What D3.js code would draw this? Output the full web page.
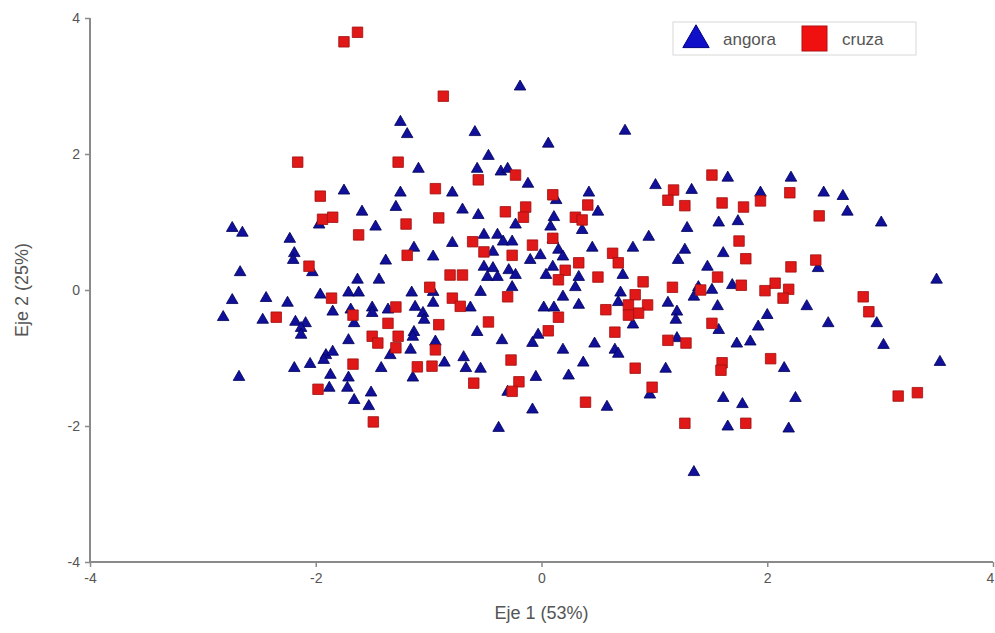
<!DOCTYPE html>
<html>
<head>
<meta charset="utf-8">
<script src="https://cdn.jsdelivr.net/npm/d3@7"></script>
<style>
  body { margin: 0; background: #fff; }
  svg { font-family: "Liberation Sans", Arial, sans-serif; }
</style>
</head>
<body>
<div id="chart"></div>
<script>
const categories = ["angora", "cruza"]
const xTicks = [-4, -2, 0, 2, 4]
const yTicks = [-4, -2, 0, 2, 4]

// angora points [eje1, eje2]
const angoraPts = [
  [-1.25, 2.47], [-1.19, 2.29], [-1.09, 1.78], [-0.19, 2.99], [-0.59, 2.32], [0.06, 2.15],
  [0.74, 2.34], [-0.47, 1.97], [-0.57, 1.78], [-0.36, 1.74], [-0.30, 1.78], [1.65, 1.65],
  [2.21, 1.65], [-1.75, 1.46], [-1.25, 1.43], [-0.79, 1.43], [-1.59, 1.15], [-1.29, 1.22],
  [-1.97, 0.96], [-1.47, 0.93], [-2.74, 0.91], [-2.65, 0.84], [-2.23, 0.75], [-0.79, 0.69],
  [-1.13, 0.62], [-0.96, 0.49], [-2.19, 0.54], [-2.20, 0.44], [-1.38, 0.43], [-2.03, 0.26],
  [-2.67, 0.26], [-1.63, 0.15], [-1.44, 0.15], [-0.96, -0.03], [-1.15, -0.04], [-1.96, -0.07],
  [-1.71, -0.04], [-1.62, -0.04], [-2.44, -0.12], [-2.74, -0.15], [-2.25, -0.19], [-0.96, -0.19],
  [-1.12, -0.25], [-1.50, -0.26], [-1.36, -0.29], [-1.69, -0.29], [-1.85, -0.32], [-1.05, -0.34],
  [-1.04, -0.44], [-2.82, -0.40], [-2.47, -0.44], [-2.18, -0.47], [-2.09, -0.49], [-2.13, -0.56],
  [-1.66, -0.49], [-1.50, -0.34], [-1.13, -0.62], [-0.12, 1.56], [1.01, 1.54], [1.33, 1.47],
  [0.42, 1.43], [0.13, 1.32], [0.50, 1.15], [-0.70, 1.18], [-0.56, 1.10], [-0.23, 0.96],
  [0.11, 1.07], [0.08, 0.93], [0.36, 0.88], [1.29, 0.91], [0.95, 0.78], [0.81, 0.62],
  [1.27, 0.59], [1.21, 0.44], [-0.51, 0.81], [-0.39, 0.81], [-0.34, 0.71], [-0.26, 0.71],
  [-0.43, 0.56], [-0.01, 0.51], [-0.10, 0.44], [0.10, 0.74], [0.15, 0.59], [0.19, 0.49],
  [0.45, 0.62], [-0.51, 0.34], [-0.43, 0.32], [-0.29, 0.29], [-0.23, 0.22], [-0.48, 0.19],
  [-0.39, 0.19], [0.04, 0.22], [0.10, 0.34], [0.33, 0.19], [0.30, 0.04], [0.72, 0.22],
  [1.39, 0.04], [1.35, -0.10], [-0.26, 0.04], [-0.54, -0.03], [-0.63, -0.26], [0.19, -0.10],
  [0.33, -0.22], [0.02, -0.26], [0.11, -0.26], [0.70, -0.04], [0.68, -0.18], [1.12, -0.19],
  [1.20, -0.32], [1.19, -0.44], [0.81, -0.51], [-0.57, -0.62], [-0.03, -0.66], [1.94, 1.43],
  [2.50, 1.43], [2.67, 1.38], [2.71, 1.15], [1.57, 0.99], [1.74, 1.01], [3.01, 0.99],
  [1.61, 0.54], [2.45, 0.32], [1.47, 0.34], [1.69, 0.07], [1.51, 0.00], [3.50, 0.15],
  [2.35, -0.24], [1.56, -0.24], [2.00, -0.37], [1.92, -0.54], [2.54, -0.49], [2.97, -0.49],
  [1.57, -0.59], [-2.68, -1.28], [-2.19, -1.15], [-2.05, -1.09], [-1.91, -0.96], [-1.85, -0.91],
  [-1.93, -1.03], [-1.71, -0.74], [-1.87, -1.25], [-1.71, -1.29], [-1.88, -1.44], [-1.72, -1.44],
  [-1.66, -1.62], [-1.51, -1.51], [-1.53, -1.71], [-1.42, -1.15], [-1.34, -0.96], [-1.14, -0.69],
  [-1.16, -0.88], [-1.14, -1.29], [-0.94, -0.76], [-0.86, -1.07], [-2.13, -0.66], [-0.35, -0.74],
  [-0.08, -0.78], [0.19, -0.88], [0.47, -0.79], [0.65, -0.88], [0.68, -0.94], [1.20, -0.71],
  [-0.69, -0.99], [-0.67, -1.15], [-0.54, -1.16], [0.37, -1.07], [1.10, -1.16], [-0.05, -1.28],
  [0.24, -1.26], [-0.30, -1.50], [0.96, -1.54], [0.58, -1.72], [-0.08, -1.76], [-0.38, -2.03],
  [1.35, -2.68], [1.73, -0.79], [1.85, -0.76], [3.03, -0.81], [3.53, -1.06], [2.15, -1.15],
  [1.61, -1.59], [1.78, -1.68], [2.25, -1.59], [1.65, -2.01], [2.19, -2.04]
]

// cruza points [eje1, eje2]
const cruzaPts = [
  [-1.75, 3.65], [-1.63, 3.79], [-0.87, 2.85], [-2.16, 1.88], [-1.27, 1.88], [-0.56, 1.62],
  [-0.23, 1.69], [1.51, 1.69], [-1.96, 1.38], [-0.94, 1.49], [-1.94, 1.04], [-1.85, 1.07],
  [-1.20, 0.97], [-0.91, 1.06], [-1.62, 0.81], [-1.19, 0.51], [-2.06, 0.35], [-0.81, 0.22],
  [-0.99, 0.04], [-1.86, -0.12], [-0.79, -0.12], [-1.29, -0.25], [-1.67, -0.37], [-2.35, -0.40],
  [-1.36, -0.49], [-0.91, -0.51], [-1.50, -0.68], [-1.27, -0.68], [1.17, 1.47], [1.12, 1.32],
  [1.27, 1.24], [0.10, 1.40], [0.41, 1.25], [-0.32, 1.15], [-0.14, 1.22], [-0.16, 1.07],
  [0.30, 1.07], [0.36, 1.03], [-0.61, 0.71], [-0.51, 0.56], [-0.08, 0.66], [-0.26, 0.51],
  [0.10, 0.76], [0.63, 0.54], [0.68, 0.40], [0.33, 0.40], [-0.70, 0.22], [0.21, 0.29],
  [0.15, 0.15], [0.50, 0.19], [0.90, 0.12], [1.16, 0.04], [1.41, 0.00], [-0.30, -0.10],
  [-0.72, -0.24], [0.83, -0.07], [0.77, -0.22], [0.94, -0.22], [0.86, -0.34], [0.77, -0.37],
  [0.57, -0.29], [0.15, -0.40], [-0.47, -0.47], [0.06, -0.60], [0.65, -0.62], [2.20, 1.43],
  [1.60, 1.28], [1.79, 1.22], [1.94, 1.31], [2.46, 1.09], [1.75, 0.72], [1.81, 0.46],
  [2.43, 0.44], [2.21, 0.34], [1.56, 0.19], [1.77, 0.07], [1.98, -0.01], [2.07, 0.10],
  [2.19, 0.01], [2.14, -0.12], [2.85, -0.10], [2.90, -0.32], [1.51, -0.49], [-1.67, -1.09],
  [-1.98, -1.46], [-1.49, -1.94], [-1.45, -0.78], [-1.29, -0.85], [-1.10, -1.13], [-0.97, -1.12],
  [-0.94, -0.88], [1.12, -0.74], [1.28, -0.78], [-0.27, -1.03], [0.83, -1.15], [-0.60, -1.37],
  [-0.20, -1.35], [-0.26, -1.49], [0.98, -1.43], [0.39, -1.65], [1.27, -1.96], [1.60, -1.07],
  [1.59, -1.18], [2.03, -1.01], [3.16, -1.56], [3.33, -1.51], [1.81, -1.96]
]

const width = 995
const height = 633

const svg = d3.select("#chart")
  .append("svg")
    .attr("width", width)
    .attr("height", height)

const x = d3.scaleLinear().domain([-4, 4]).range([90, 993])
const y = d3.scaleLinear().domain([-4, 4]).range([562, 18])

const axisColor = "#8a8a8a"
const textColor = "#555"

// x axis
const xAxis = svg.append("g")
  .attr("transform", "translate(0," + y(-4) + ")")
  .call(d3.axisBottom(x).tickValues(xTicks).tickSize(5).tickPadding(6).tickFormat(d => String(d)))
xAxis.select(".domain").attr("stroke", axisColor).attr("stroke-width", 2)
  .attr("d", "M" + (x(-4) - 1) + ",0H" + x(4))
xAxis.selectAll(".tick line").attr("stroke", axisColor).attr("stroke-width", 1.5)
xAxis.selectAll(".tick text").attr("fill", textColor).style("font-size", "14px")
// last label sits on the right edge, pull it in a little
xAxis.selectAll(".tick text").filter(d => d === 4).attr("dx", "-3px")

// y axis
const yAxis = svg.append("g")
  .attr("transform", "translate(" + x(-4) + ",0)")
  .call(d3.axisLeft(y).tickValues(yTicks).tickSize(5).tickPadding(5).tickFormat(d => String(d)))
yAxis.select(".domain").attr("stroke", axisColor).attr("stroke-width", 2)
  .attr("d", "M0," + y(4) + "V" + (y(-4) + 1))
yAxis.selectAll(".tick line").attr("stroke", axisColor).attr("stroke-width", 1.5)
yAxis.selectAll(".tick text").attr("fill", textColor).style("font-size", "14px")

// axis titles
svg.append("text")
  .attr("x", (x(-4) + x(4)) / 2)
  .attr("y", 619)
  .attr("text-anchor", "middle")
  .attr("fill", textColor)
  .style("font-size", "18px")
  .text("Eje 1 (53%)")

svg.append("text")
  .attr("transform", "translate(28," + y(0) + ") rotate(-90)")
  .attr("text-anchor", "middle")
  .attr("fill", textColor)
  .style("font-size", "18px")
  .text("Eje 2 (25%)")

const triangle = d3.symbol().type(d3.symbolTriangle).size(58)
const square = d3.symbol().type(d3.symbolSquare).size(110)

// points
svg.append("g").selectAll("path")
  .data(angoraPts)
  .enter()
  .append("path")
    .attr("d", triangle)
    .attr("transform", d => "translate(" + x(d[0]) + "," + y(d[1]) + ")")
    .attr("fill", "#10109a")
    .attr("stroke", "#000055")
    .attr("stroke-width", 0.8)

svg.append("g").selectAll("path")
  .data(cruzaPts)
  .enter()
  .append("path")
    .attr("d", square)
    .attr("transform", d => "translate(" + x(d[0]) + "," + y(d[1]) + ")")
    .attr("fill", "#e01818")
    .attr("stroke", "#a01010")
    .attr("stroke-width", 0.8)

// legend
const legend = svg.append("g")
legend.append("rect")
  .attr("x", 673).attr("y", 22)
  .attr("width", 243).attr("height", 33)
  .attr("fill", "#fff")
  .attr("stroke", "#d8d8d8")

legend.append("path")
  .attr("d", d3.symbol().type(d3.symbolTriangle).size(300))
  .attr("transform", "translate(696,40)")
  .attr("fill", "#1010c8")
  .attr("stroke", "#000080")

legend.append("text")
  .attr("x", 723).attr("y", 45)
  .attr("fill", textColor)
  .style("font-size", "17px")
  .text(categories[0])

legend.append("rect")
  .attr("x", 802).attr("y", 26)
  .attr("width", 25).attr("height", 25)
  .attr("fill", "#f01010")
  .attr("stroke", "#b01010")

legend.append("text")
  .attr("x", 842).attr("y", 45)
  .attr("fill", textColor)
  .style("font-size", "17px")
  .text(categories[1])
</script>
</body>
</html>
